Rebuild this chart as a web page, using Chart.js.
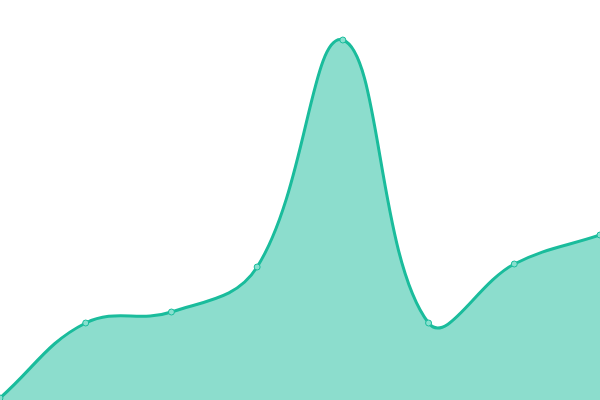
<!DOCTYPE html>
<html>
<head>
<meta charset="utf-8">
<script src="https://cdn.jsdelivr.net/npm/chart.js@4/dist/chart.umd.min.js"></script>
<style>
  html, body { margin: 0; padding: 0; background: #fff; }
  #wrap { width: 600px; height: 400px; }
</style>
</head>
<body>
<div id="wrap"><canvas id="chart"></canvas></div>
<script>
// valores
const labels = ['1', '2', '3', '4', '5', '6', '7', '8'];
const values = [2, 77, 88, 133, 360, 77, 136, 165];

const ctx = document.getElementById('chart').getContext('2d');

new Chart(ctx, {
    type: 'line',
    data: {
        labels: labels,
        datasets: [{
            data: values,
            fill: true,
            tension: 0.4,
            borderColor: '#1abc9c',
            backgroundColor: 'rgba(26, 188, 156, 0.5)',
            borderWidth: 3,
            pointRadius: 3,
            pointBorderWidth: 1,
            pointBorderColor: '#1abc9c',
            pointBackgroundColor: '#88e0cf'
        }]
    },
    options: {
        responsive: true,
        maintainAspectRatio: false,
        animation: false,
        layout: { padding: 0, autoPadding: false },
        plugins: {
            legend: { display: false },
            tooltip: { enabled: false }
        },
        scales: {
            x: { display: false },
            y: { display: false, min: 0, max: 400 }
        }
    }
});
</script>
</body>
</html>
